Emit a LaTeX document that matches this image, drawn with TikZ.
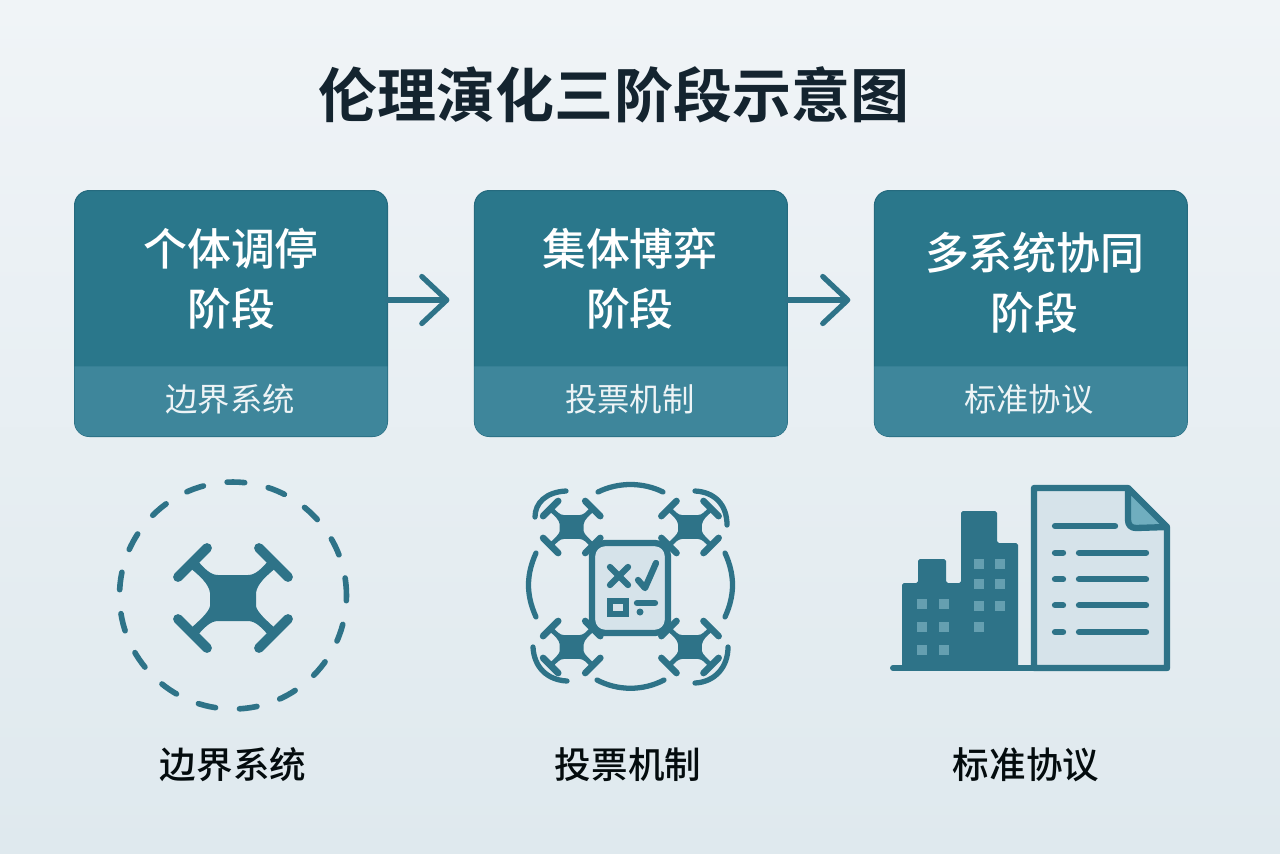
\documentclass[tikz,border=0pt]{standalone}
\usepackage{fontspec}
\usepackage{xcolor}
\usepackage{tikz}
\usetikzlibrary{arrows.meta,positioning,calc}
\setmainfont{Noto Sans CJK SC}
\newfontfamily\cjkbold{Noto Sans CJK SC Bold}
\newfontfamily\cjkmed{Noto Sans CJK SC Medium}
\definecolor{bgtop}{HTML}{F0F4F7}
\definecolor{bgmid}{HTML}{E3ECF0}
\definecolor{bgbot}{HTML}{DFE9EE}
\definecolor{cardteal}{HTML}{2A778B}
\definecolor{carddark}{HTML}{256A7E}
\definecolor{bandteal}{HTML}{3E869B}
\definecolor{iconteal}{HTML}{2E7388}
\definecolor{pagefill}{HTML}{D6E3EA}
\definecolor{foldfill}{HTML}{70AEBF}
\definecolor{winfill}{HTML}{659FB0}
\definecolor{inktext}{HTML}{14242F}

\tikzset{
    drone/.pic={
        \fill [iconteal] (-37,-39) .. controls (-29,-30) and (-23,-23) .. (-15,-23) -- (15,-23) .. controls (23,-23) and (29,-30) .. (37,-39) -- (44,-31) .. controls (33,-22) and (24,-14) .. (23,-5) -- (23,8) .. controls (24,14) and (33,22) .. (44,32) -- (37,39) .. controls (29,30) and (23,23) .. (15,23) -- (-15,23) .. controls (-23,23) and (-29,30) .. (-37,39) -- (-44,32) .. controls (-33,22) and (-24,14) .. (-23,8) -- (-23,-5) .. controls (-24,-14) and (-33,-22) .. (-44,-31) -- cycle;
        \draw [iconteal, line cap=round, line width=#1] (-55,-21) -- (-26,-50);
        \draw [iconteal, line cap=round, line width=#1] (55,-21) -- (26,-50);
        \draw [iconteal, line cap=round, line width=#1] (-55,21) -- (-26,50);
        \draw [iconteal, line cap=round, line width=#1] (55,21) -- (26,50);
    }
}

\begin{document}
\begin{tikzpicture}[
    x=0.02cm, y=-0.02cm,
    node distance=1.74cm,
    card/.style={rectangle, draw=carddark, fill=cardteal, line width=0.6pt, rounded corners=0.3cm, outer sep=0pt, minimum width=6.26cm, minimum height=4.92cm},
    band/.style={fill=bandteal},
    headtext/.style={align=center, text=white, font=\cjkmed\fontsize{25}{34}\selectfont},
    bandtext/.style={text=white!92!cardteal, font=\fontsize{18.4}{22}\selectfont},
    titletext/.style={text=inktext, font=\cjkbold\fontsize{33.6}{40}\selectfont},
    iconlabel/.style={text=black!90!cardteal, font=\cjkmed\fontsize{20.8}{25}\selectfont},
    arrow/.style={-{Straight Barb[round, length=0.5cm, width=0.94cm]}, line width=3pt, draw=iconteal, line cap=round},
    iconline/.style={draw=iconteal, line cap=round, line width=3pt},
    pageline/.style={iconline, line width=3.6pt},
    window/.style={fill=winfill}
]
    \shade [top color=bgtop, middle color=bgmid, bottom color=bgbot] (0,0) rectangle (1280,853);

    \node [titletext] (title) at (614,95) {伦理演化三阶段示意图};

    \node [card] (stage1) at (231,313.5) {};
    \node [card, right=of stage1] (stage2) {};
    \node [card, right=of stage2] (stage3) {};

    % lower strip of each card
    \fill [band] ($(stage1.south west)+(0,-70)$) [rounded corners=0.3cm] -- (stage1.south west) -- (stage1.south east) [sharp corners] -- ($(stage1.south east)+(0,-70)$) -- cycle;
    \fill [band] ($(stage2.south west)+(0,-70)$) [rounded corners=0.3cm] -- (stage2.south west) -- (stage2.south east) [sharp corners] -- ($(stage2.south east)+(0,-70)$) -- cycle;
    \fill [band] ($(stage3.south west)+(0,-70)$) [rounded corners=0.3cm] -- (stage3.south west) -- (stage3.south east) [sharp corners] -- ($(stage3.south east)+(0,-70)$) -- cycle;

    \node [headtext] (head1) at ($(stage1.north)+(0,88)$) {个体调停\\阶段};
    \node [headtext] (head2) at ($(stage2.north)+(-1,88)$) {集体博弈\\阶段};
    \node [headtext] (head3) at ($(stage3.north)+(4,92)$) {多系统协同\\阶段};
    \node [bandtext] (band1) at ($(stage1.south)+(-1,-37)$) {边界系统};
    \node [bandtext] (band2) at ($(stage2.south)+(-1,-37)$) {投票机制};
    \node [bandtext] (band3) at ($(stage3.south)+(-2,-37)$) {标准协议};

    \draw [arrow, shorten >=0.5cm] ([yshift=0.27cm]stage1.east) -- ([yshift=0.27cm]stage2.west);
    \draw [arrow, shorten >=0.48cm] ([yshift=0.27cm]stage2.east) -- ([yshift=0.27cm]stage3.west);

    % bounded drone
    \draw [iconline, line width=3.2pt, dash pattern=on 10pt off 13.7pt] (233,595.5) circle [radius=2.27cm];
    \pic at (233,598) {drone=5.6pt};

    % voting drones
    \pic [scale=0.52] at (571.7,527) {drone=3.8pt};
    \pic [scale=0.52] at (690,527) {drone=3.8pt};
    \pic [scale=0.52] at (571.7,647) {drone=3.8pt};
    \pic [scale=0.52] at (690,647) {drone=3.8pt};
    \draw [iconline] (598,492) .. controls (618,482) and (643,482) .. (663,492);
    \draw [iconline] (597,680) .. controls (618,691) and (643,691) .. (664,680);
    \draw [iconline] (536,553) .. controls (526,575) and (526,595) .. (536,617);
    \draw [iconline] (725,553) .. controls (735,575) and (735,595) .. (725,617);
    \draw [iconline] (566,491) .. controls (546,492) and (535,503) .. (535,517);
    \draw [iconline] (695,491) .. controls (715,492) and (727,505) .. (727,525);
    \draw [iconline] (533,647) .. controls (534,667) and (547,680) .. (567,681);
    \draw [iconline] (695,683) .. controls (715,682) and (728,667) .. (728,647);
    \draw [iconline, fill=pagefill, line width=3.6pt, rounded corners=0.26cm] (592,543) rectangle (668,633);
    \draw [pageline] (610,567) -- (628,585);
    \draw [pageline] (628,567) -- (610,585);
    \draw [pageline, line join=round] (638,580) -- (645,588) -- (656,563);
    \draw [draw=iconteal, fill=pagefill, line width=3pt] (610,601) rectangle (626,614);
    \draw [pageline] (637,603) -- (655,603);
    \fill [iconteal] (640,612) circle [radius=0.07cm];

    % buildings and protocol page
    \fill [iconteal, rounded corners=1pt] (902,667) -- (902,583) -- (918,583) -- (918,559) -- (946,559) -- (946,583) -- (961,583) -- (961,511) -- (997,511) -- (997,543) -- (1018,543) -- (1018,667) -- cycle;
    \fill [window] (917,599) rectangle (927,609);
    \fill [window] (939,599) rectangle (949,609);
    \fill [window] (917,622) rectangle (927,632);
    \fill [window] (939,622) rectangle (949,632);
    \fill [window] (917,645) rectangle (927,655);
    \fill [window] (939,645) rectangle (949,655);
    \fill [window] (974,559) rectangle (984,569);
    \fill [window] (995,559) rectangle (1005,569);
    \fill [window] (974,579) rectangle (984,589);
    \fill [window] (995,579) rectangle (1005,589);
    \fill [window] (974,601) rectangle (984,611);
    \fill [window] (995,601) rectangle (1005,611);
    \fill [window] (974,622) rectangle (984,632);
    \draw [draw=iconteal, fill=pagefill, line width=3.6pt, line join=round] (1034,668) -- (1034,488) -- (1128,488) -- (1167,527) -- (1167,668) -- cycle;
    \draw [draw=iconteal, fill=foldfill, line width=3.6pt, line join=round] (1128,488) -- (1128,520) .. controls (1128,525) and (1131,528) .. (1136,528) -- (1167,527) -- cycle;
    \draw [iconline, line width=3.4pt] (893,668) -- (1167,668);
    \draw [pageline] (1055,526) -- (1115,526);
    \draw [pageline] (1055,552.7) -- (1063,552.7);
    \draw [pageline] (1079,552.7) -- (1146,552.7);
    \draw [pageline] (1055,579.3) -- (1063,579.3);
    \draw [pageline] (1079,579.3) -- (1146,579.3);
    \draw [pageline] (1055,605.3) -- (1063,605.3);
    \draw [pageline] (1079,605.3) -- (1146,605.3);
    \draw [pageline] (1055,632) -- (1063,632);
    \draw [pageline] (1079,632) -- (1146,632);

    \node [iconlabel] (label1) at (233,765) {边界系统};
    \node [iconlabel] (label2) at (628,765) {投票机制};
    \node [iconlabel] (label3) at (1026,765) {标准协议};
\end{tikzpicture}
\end{document}
